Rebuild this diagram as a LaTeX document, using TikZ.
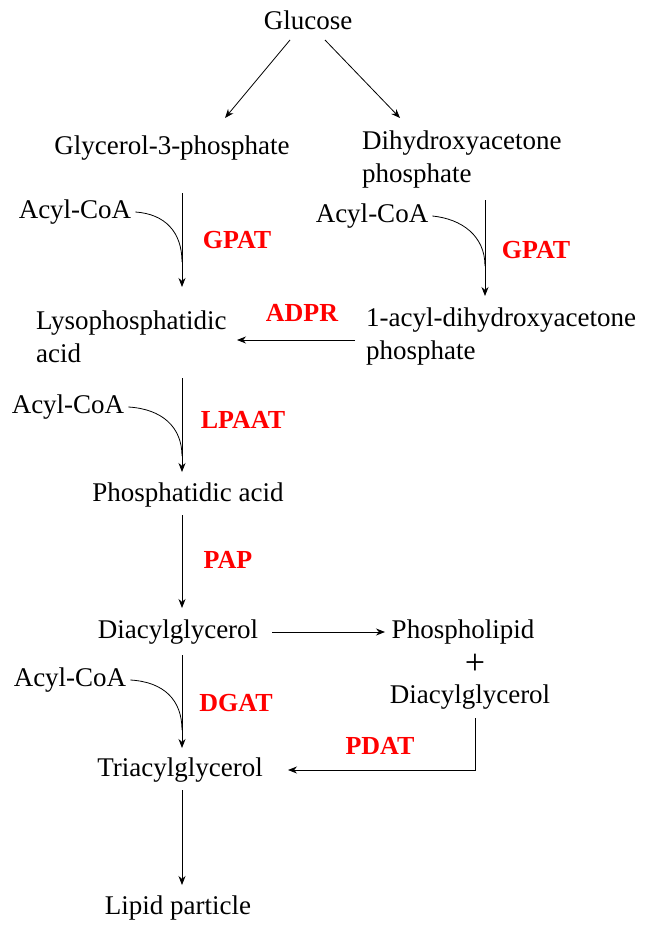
\documentclass[tikz,border=0pt]{standalone}
\usepackage{fontspec}
\setmainfont{Liberation Serif}
\usetikzlibrary{arrows.meta}
\begin{document}
\begin{tikzpicture}[
    x=1pt, y=-1pt,
    every node/.style={font=\fontsize{27}{33}\selectfont, inner sep=0pt},
    lbl/.style={align=left, anchor=west},
    enz/.style={text=red, font=\fontsize{26}{31}\selectfont\bfseries},
    flow/.style={-{Stealth[length=9pt,width=7pt]}, thick},
    feed/.style={thick}
]
    \useasboundingbox (0,0) rectangle (650,934);

    % Metabolites
    \node (glc) at (308,20) {Glucose};
    \node (g3p) at (172,148) {Glycerol-3-phosphate};
    \node[lbl] (dhap) at (362,160) {Dihydroxyacetone\\phosphate};
    \node[lbl] (lpa) at (36,337) {Lysophosphatidic\\acid};
    \node[lbl] (adhap) at (366,337) {1-acyl-dihydroxyacetone\\phosphate};
    \node (pa) at (188,495) {Phosphatidic acid};
    \node (dag) at (178,632) {Diacylglycerol};
    \node (pl) at (463,632) {Phospholipid};
    \node[font=\fontsize{36}{40}\selectfont] (plus) at (475,664) {+};
    \node (dag2) at (470,697) {Diacylglycerol};
    \node (tag) at (180,770) {Triacylglycerol};
    \node (lp) at (178,908) {Lipid particle};

    % Acyl-CoA donors
    \node (acyl1) at (75,212) {Acyl-CoA};
    \node (acyl2) at (372,216) {Acyl-CoA};
    \node (acyl3) at (68,407) {Acyl-CoA};
    \node (acyl4) at (70,680) {Acyl-CoA};

    % Enzymes
    \node[enz] (gpat1) at (237,240) {GPAT};
    \node[enz] (gpat2) at (536,250) {GPAT};
    \node[enz] (adpr) at (302,313) {ADPR};
    \node[enz] (lpaat) at (243,420) {LPAAT};
    \node[enz] (pap) at (228,560) {PAP};
    \node[enz] (dgat) at (236,703) {DGAT};
    \node[enz] (pdat) at (380,746) {PDAT};

    % Arrows
    \draw[flow] (290,40) -- (225,118);
    \draw[flow] (325,40) -- (400,118);

    \draw[flow] (182,193) -- (182,287);
    \draw[feed] (acyl1.east) ++(4,0) .. controls (165,214) and (182,232) .. (182,262);

    \draw[flow] (485,200) -- (485,296);
    \draw[feed] (acyl2.east) ++(4,0) .. controls (462,219) and (485,236) .. (485,266);

    \draw[flow] (355,340) -- (237,340);

    \draw[flow] (182,378) -- (182,472);
    \draw[feed] (acyl3.east) ++(4,0) .. controls (162,409) and (182,427) .. (182,456);

    \draw[flow] (182,515) -- (182,608);

    \draw[flow] (272,632) -- (385,632);

    \draw[flow] (182,655) -- (182,748);
    \draw[feed] (acyl4.east) ++(4,0) .. controls (164,682) and (182,700) .. (182,730);

    \draw[flow] (475,718) -- (475,770) -- (288,770);

    \draw[flow] (182,790) -- (182,885);
\end{tikzpicture}
\end{document}
